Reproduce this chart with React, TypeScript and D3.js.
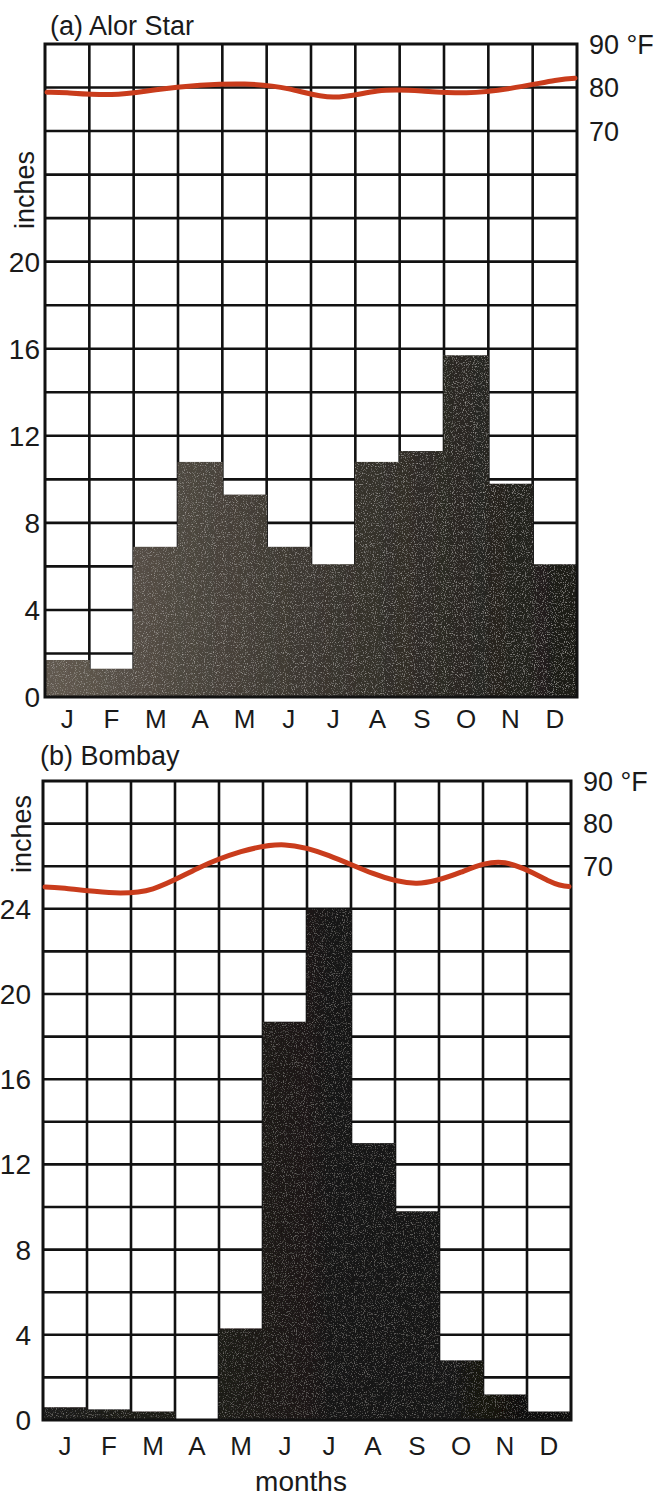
import React from "react";
import * as d3 from "d3";

const months = ["J", "F", "M", "A", "M", "J", "J", "A", "S", "O", "N", "D"];

const alorRain = [1.7, 1.3, 6.9, 10.8, 9.3, 6.9, 6.1, 10.8, 11.3, 15.7, 9.8, 6.1];
const alorTemp = [78.8, 78.4, 79.5, 80.5, 80.8, 79.7, 77.8, 79.2, 79.2, 78.8, 79.8, 81.6];

const bombayRain = [0.6, 0.5, 0.4, 0, 4.3, 18.7, 24.0, 13.0, 9.8, 2.8, 1.2, 0.4];
const bombayTemp = [64.8, 63.8, 64.7, 69.4, 73.4, 75.0, 72.5, 68.3, 66.0, 68.6, 70.8, 66.5];

const alorTicks = [0, 4, 8, 12, 16, 20];
const bombayTicks = [0, 4, 8, 12, 16, 20, 24];
const tempTicks = [90, 80, 70];

const FONT = "'Liberation Sans', Arial, Helvetica, sans-serif";

type PanelProps = {
  id: string;
  title: string;
  rain: number[];
  temp: number[];
  ticks: number[];
  left: number;
  right: number;
  top: number;
  bottom: number;
  titleX: number;
  titleY: number;
  tickX: number;
  inchesX: number;
  inchesY: number;
  rightLabelX: number;
  monthY: number;
  stops: [number, string][];
  grain: number;
};

function Panel(p: PanelProps) {
  const x = d3.scaleBand<number>().domain(d3.range(12)).range([p.left, p.right]).padding(0);
  const y = d3.scaleLinear().domain([0, 30]).range([p.bottom, p.top]);
  const t = d3.scaleLinear().domain([70, 90]).range([y(26), y(30)]);
  const gridVals = d3.range(2, 30, 2);
  const bw = x.bandwidth();

  const pts: [number, number][] = p.temp.map((v, i) => [x(i)! + bw / 2, t(v)]);
  const linePts: [number, number][] = [
    [p.left + 2, t(p.temp[0] + (p.temp[0] - p.temp[1]) * 0.3)],
    ...pts,
    [p.right - 2, t(p.temp[11] + (p.temp[11] - p.temp[10]) * 0.3)],
  ];
  const line = d3.line().curve(d3.curveNatural)(linePts) || "";

  return (
    <g>
      <defs>
        <linearGradient
          id={`grad-${p.id}`}
          gradientUnits="userSpaceOnUse"
          x1={p.left}
          y1={0}
          x2={p.right}
          y2={0}
        >
          {p.stops.map(([o, c]) => (
            <stop key={o} offset={`${o}%`} stopColor={c} />
          ))}
        </linearGradient>
        <filter id={`grain-${p.id}`} x="0" y="0" width="100%" height="100%">
          <feTurbulence type="fractalNoise" baseFrequency="0.9" numOctaves={2} seed={3} result="noise" />
          <feColorMatrix
            in="noise"
            type="matrix"
            values={`0 0 0 0 0.85  0 0 0 0 0.82  0 0 0 0 0.78  ${p.grain} 0 0 0 ${-p.grain * 0.55}`}
            result="specks"
          />
          <feComposite in="specks" in2="SourceGraphic" operator="in" result="specksIn" />
          <feMerge>
            <feMergeNode in="SourceGraphic" />
            <feMergeNode in="specksIn" />
          </feMerge>
        </filter>
      </defs>
      <text x={p.titleX} y={p.titleY} fontSize={27} fontFamily={FONT} fill="#1a1a1a">
        {p.title}
      </text>
      <rect x={p.left} y={p.top} width={p.right - p.left} height={p.bottom - p.top} fill="#fff" />
      {gridVals.map((g) => (
        <line key={`h${g}`} x1={p.left} x2={p.right} y1={y(g)} y2={y(g)} stroke="#111" strokeWidth={2.6} />
      ))}
      {d3.range(1, 12).map((i) => (
        <line key={`v${i}`} x1={x(i)!} x2={x(i)!} y1={p.top} y2={p.bottom} stroke="#111" strokeWidth={2.6} />
      ))}
      <g filter={`url(#grain-${p.id})`}>
        {p.rain.map((r, i) => (
          <rect
            key={`b${i}`}
            x={x(i)! - 0.5}
            y={y(r)}
            width={bw + 1}
            height={p.bottom - y(r)}
            fill={`url(#grad-${p.id})`}
          />
        ))}
      </g>
      <rect
        x={p.left}
        y={p.top}
        width={p.right - p.left}
        height={p.bottom - p.top}
        fill="none"
        stroke="#111"
        strokeWidth={3}
      />
      <path d={line} fill="none" stroke="#c93c1c" strokeWidth={5} strokeLinecap="round" />
      {p.ticks.map((v) => (
        <text
          key={`t${v}`}
          x={p.tickX}
          y={y(v)}
          dy="0.36em"
          textAnchor="end"
          fontSize={28}
          fontFamily={FONT}
          fill="#1a1a1a"
        >
          {v}
        </text>
      ))}
      {tempTicks.map((v) => (
        <text
          key={`r${v}`}
          x={p.rightLabelX}
          y={t(v)}
          dy="0.36em"
          fontSize={27}
          fontFamily={FONT}
          fill="#1a1a1a"
        >
          {v === 90 ? "90 °F" : v}
        </text>
      ))}
      <text
        transform={`translate(${p.inchesX},${p.inchesY}) rotate(-90)`}
        textAnchor="middle"
        dy="0.36em"
        fontSize={27}
        fontFamily={FONT}
        fill="#1a1a1a"
      >
        inches
      </text>
      {months.map((m, i) => (
        <text
          key={`m${i}`}
          x={x(i)! + bw / 2}
          y={p.monthY}
          textAnchor="middle"
          fontSize={26}
          fontFamily={FONT}
          fill="#1a1a1a"
        >
          {m}
        </text>
      ))}
    </g>
  );
}

export default function App() {
  return (
    <svg
      width={659}
      height={1496}
      style={{ position: "absolute", left: 0, top: 0, background: "#fff" }}
    >
      <rect x={0} y={0} width={659} height={1496} fill="#fff" />
      <Panel
        id="a"
        title="(a) Alor Star"
        rain={alorRain}
        temp={alorTemp}
        ticks={alorTicks}
        left={45}
        right={577}
        top={44}
        bottom={697}
        titleX={50}
        titleY={35}
        tickX={40}
        inchesX={24}
        inchesY={190}
        rightLabelX={589}
        monthY={728}
        stops={[
          [0, "#625a50"],
          [45, "#3f3a33"],
          [100, "#1c1b17"],
        ]}
        grain={1.1}
      />
      <Panel
        id="b"
        title="(b) Bombay"
        rain={bombayRain}
        temp={bombayTemp}
        ticks={bombayTicks}
        left={43}
        right={571}
        top={781}
        bottom={1420}
        titleX={40}
        titleY={765}
        tickX={31}
        inchesX={21}
        inchesY={834}
        rightLabelX={583}
        monthY={1455}
        stops={[
          [0, "#1e1c1a"],
          [50, "#1a1917"],
          [100, "#0f0f0e"],
        ]}
        grain={0.6}
      />
      <text x={301} y={1491} textAnchor="middle" fontSize={28} fontFamily={FONT} fill="#1a1a1a">
        months
      </text>
    </svg>
  );
}
